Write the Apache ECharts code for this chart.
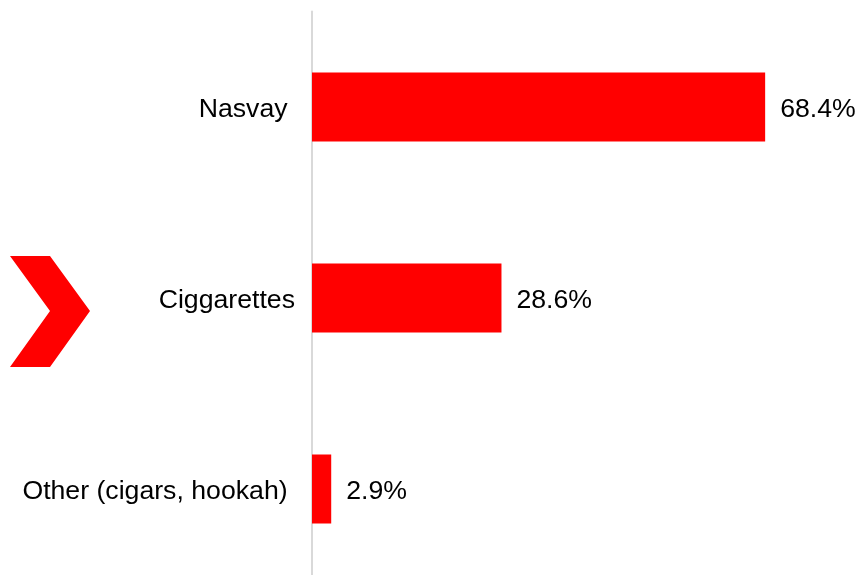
<!DOCTYPE html>
<html>
<head>
<meta charset="utf-8">
<script src="https://cdn.jsdelivr.net/npm/echarts@6/dist/echarts.min.js"></script>
<style>
  html, body { margin: 0; padding: 0; background: #fff; }
  #chart { width: 859px; height: 575px; }
</style>
</head>
<body>
<div id="chart"></div>
<script>
// Tobacco product categories and their shares (%)
const categories = ['Nasvay ', 'Ciggarettes', 'Other (cigars, hookah) '];
const shares = [68.4, 28.6, 2.9];

const FONT = '"Liberation Sans", Arial, sans-serif';
const chart = echarts.init(document.getElementById('chart'));

chart.setOption({
  animation: false,
  backgroundColor: '#ffffff',
  textStyle: { fontFamily: FONT },
  grid: {
    left: 312, top: 11.5, width: 530, height: 573,
    containLabel: false,
    outerBoundsMode: 'none'
  },
  xAxis: {
    type: 'value',
    min: 0,
    max: 80,
    show: false
  },
  yAxis: {
    type: 'category',
    data: categories,
    inverse: true,
    offset: 1,
    axisLine: { show: true, lineStyle: { color: '#d9d9d9', width: 2 } },
    axisTick: { show: false },
    axisLabel: {
      margin: 16,
      formatter: v => '{t|' + v + '}',
      rich: {
        t: {
          color: '#000000',
          fontSize: 26.67,
          fontFamily: FONT,
          padding: [6, 0, 0, 0]
        }
      }
    }
  },
  series: [{
    type: 'bar',
    data: shares,
    barCategoryGap: '64%',
    itemStyle: { color: '#ff0000' },
    label: {
      show: true,
      position: 'right',
      distance: 15,
      offset: [0, 3],
      color: '#000000',
      fontSize: 26.67,
      fontFamily: FONT,
      formatter: p => p.value.toFixed(1) + '%'
    }
  }],
  graphic: [{
    // red chevron marker beside the middle row
    type: 'polygon',
    shape: {
      points: [[10, 256], [50, 256], [90, 311], [50, 367], [10, 367], [50, 311]]
    },
    style: { fill: '#ff0000' }
  }]
});
</script>
</body>
</html>
